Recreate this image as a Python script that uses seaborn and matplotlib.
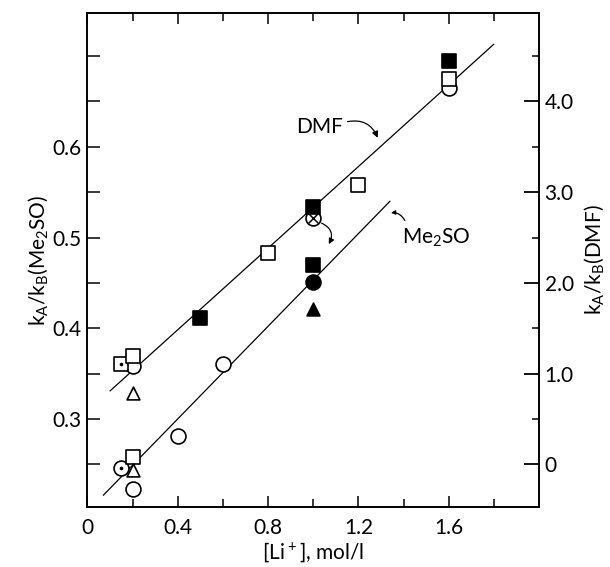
import numpy as np
import pandas as pd
import matplotlib
matplotlib.use("Agg")
import matplotlib.pyplot as plt
import seaborn as sb
from matplotlib.ticker import FixedLocator, FuncFormatter

# DMF points, read against the right axis (kA/kB(DMF))
dmf_li = [0.15, 0.20, 0.20, 0.20, 0.50, 0.80, 1.00, 1.20, 1.60, 1.60, 1.60]
dmf_ratio = [1.11, 1.20, 1.08, 0.79, 1.61, 2.33, 2.84, 3.08, 4.44, 4.25, 4.15]
dmf_symbol = ['dot_square', 'open_square', 'open_circle', 'open_triangle', 'filled_square',
              'open_square', 'filled_square', 'open_square', 'filled_square', 'open_square', 'open_circle']
dmf_line_li = [0.10, 1.80]
dmf_line_ratio = [0.81, 4.63]

# Me2SO points, read against the left axis (kA/kB(Me2SO))
me2so_li = [0.15, 0.20, 0.20, 0.20, 0.40, 0.60, 1.00, 1.00, 1.00, 1.00]
me2so_ratio = [0.246, 0.244, 0.258, 0.223, 0.281, 0.361, 0.470, 0.451, 0.421, 0.522]
me2so_symbol = ['dot_circle', 'open_triangle', 'open_square', 'open_circle', 'open_circle',
                'open_circle', 'filled_square', 'filled_circle', 'filled_triangle', 'cross_circle']
me2so_line_li = [0.07, 1.34]
me2so_line_ratio = [0.216, 0.540]

x_ticks = [0, 0.4, 0.8, 1.2, 1.6]
left_ticks = [0.3, 0.4, 0.5, 0.6]
right_ticks = [0, 1.0, 2.0, 3.0, 4.0]

sb.set_style("ticks")
plt.rcParams['font.family'] = ['Lato', 'DejaVu Sans']
plt.rcParams['mathtext.default'] = 'regular'
plt.rcParams['text.color'] = 'black'
plt.rcParams['axes.labelcolor'] = 'black'
plt.rcParams['xtick.color'] = 'black'
plt.rcParams['ytick.color'] = 'black'
FS = 15

# marker, fill, size, draw order
styles = {
    'open_circle': ('o', 'white', 115, 1),
    'dot_circle': ('o', 'white', 115, 2),
    'cross_circle': ('o', 'white', 115, 2),
    'open_square': ('s', 'white', 100, 3),
    'dot_square': ('s', 'white', 100, 3),
    'open_triangle': ('^', 'white', 85, 4),
    'filled_circle': ('o', 'black', 115, 5),
    'filled_square': ('s', 'black', 100, 6),
    'filled_triangle': ('^', 'black', 85, 6),
}


def draw_points(ax, df):
    for sym in sorted(df['symbol'].unique(), key=lambda k: styles[k][3]):
        grp = df[df['symbol'] == sym]
        m, fc, s, z = styles[sym]
        sb.scatterplot(data=grp, x='li', y='ratio', marker=m, s=s, color=fc,
                       edgecolor='black', linewidth=1.2, ax=ax, zorder=3 + z, legend=False)
        if sym.startswith('dot'):
            sb.scatterplot(data=grp, x='li', y='ratio', marker='o', s=7, color='black',
                           linewidth=0, ax=ax, zorder=3 + z, legend=False)
        if sym.startswith('cross'):
            sb.scatterplot(data=grp, x='li', y='ratio', marker='x', s=55, color='black',
                           linewidth=1.1, ax=ax, zorder=3 + z, legend=False)


fig = plt.figure(figsize=(6.1, 5.67), dpi=100)
ax = fig.add_axes([0.1434, 0.1063, 0.7402, 0.8702])
ax2 = ax.twinx()

ylo, yhi = 0.2034, 0.747
ax.set_xlim(0, 2.0)
ax.set_ylim(ylo, yhi)
ax2.set_ylim((ylo - 0.25) * 10, (yhi - 0.25) * 10)

me2so_df = pd.DataFrame({'li': me2so_li, 'ratio': me2so_ratio, 'symbol': me2so_symbol})
dmf_df = pd.DataFrame({'li': dmf_li, 'ratio': dmf_ratio, 'symbol': dmf_symbol})

ax.plot(me2so_line_li, me2so_line_ratio, color='black', lw=0.9, zorder=2)
ax2.plot(dmf_line_li, dmf_line_ratio, color='black', lw=0.9, zorder=2)
draw_points(ax, me2so_df)
draw_points(ax2, dmf_df)

# ticks
ax.xaxis.set_major_locator(FixedLocator(x_ticks))
ax.xaxis.set_minor_locator(FixedLocator([0.2, 0.6, 1.0, 1.4, 1.8]))
ax.xaxis.set_major_formatter(FuncFormatter(lambda v, p: '0' if v == 0 else f'{v:.1f}'))
ax.yaxis.set_major_locator(FixedLocator(left_ticks))
ax.yaxis.set_minor_locator(FixedLocator([0.25, 0.35, 0.45, 0.55, 0.65, 0.70]))
ax.yaxis.set_major_formatter(FuncFormatter(lambda v, p: f'{v:.1f}'))
ax2.yaxis.set_major_locator(FixedLocator(right_ticks))
ax2.yaxis.set_minor_locator(FixedLocator([0.5, 1.5, 2.5, 3.5, 4.5]))
ax2.yaxis.set_major_formatter(FuncFormatter(lambda v, p: '0' if v == 0 else f'{v:.1f}'))

ax.tick_params(axis='x', which='both', direction='in', top=True, bottom=True,
               labelsize=FS, pad=8, width=1.1)
ax.tick_params(axis='x', which='major', length=8)
ax.tick_params(axis='x', which='minor', length=6)
ax.tick_params(axis='y', which='both', direction='in', right=False, length=9,
               width=1.1, labelsize=FS, pad=4)
ax2.tick_params(axis='y', which='major', direction='in', length=11, width=1.3,
                labelsize=FS, pad=4)
ax2.tick_params(axis='y', which='minor', direction='in', length=5, width=1.1)

for a in (ax, ax2):
    for sp in a.spines.values():
        sp.set_linewidth(1.2)
        sp.set_color('black')

ax.set_xlabel('[Li$^+$], mol/l', fontsize=FS, labelpad=2)
ax.set_ylabel('k$_A$/k$_B$(Me$_2$SO)', fontsize=FS, labelpad=2)
ax2.set_ylabel('k$_A$/k$_B$(DMF)', fontsize=FS, labelpad=6)

# annotations
ax.text(1.03, 0.622, 'DMF', fontsize=FS, ha='center', va='center')
ax.annotate('', xy=(1.29, 0.607), xytext=(1.14, 0.627),
            arrowprops=dict(arrowstyle='-|>', color='black', lw=0.9,
                            connectionstyle='arc3,rad=-0.45', mutation_scale=9))
ax.text(1.545, 0.500, 'Me$_2$SO', fontsize=FS, ha='center', va='center')
ax.annotate('', xy=(1.332, 0.527), xytext=(1.411, 0.516),
            arrowprops=dict(arrowstyle='-|>', color='black', lw=0.9,
                            connectionstyle='arc3,rad=0.4', mutation_scale=6))
ax.annotate('', xy=(1.063, 0.49), xytext=(1.026, 0.517),
            arrowprops=dict(arrowstyle='-|>', color='black', lw=0.9,
                            connectionstyle='arc3,rad=-0.6', mutation_scale=8))

fig.savefig('out.png', dpi=100)
